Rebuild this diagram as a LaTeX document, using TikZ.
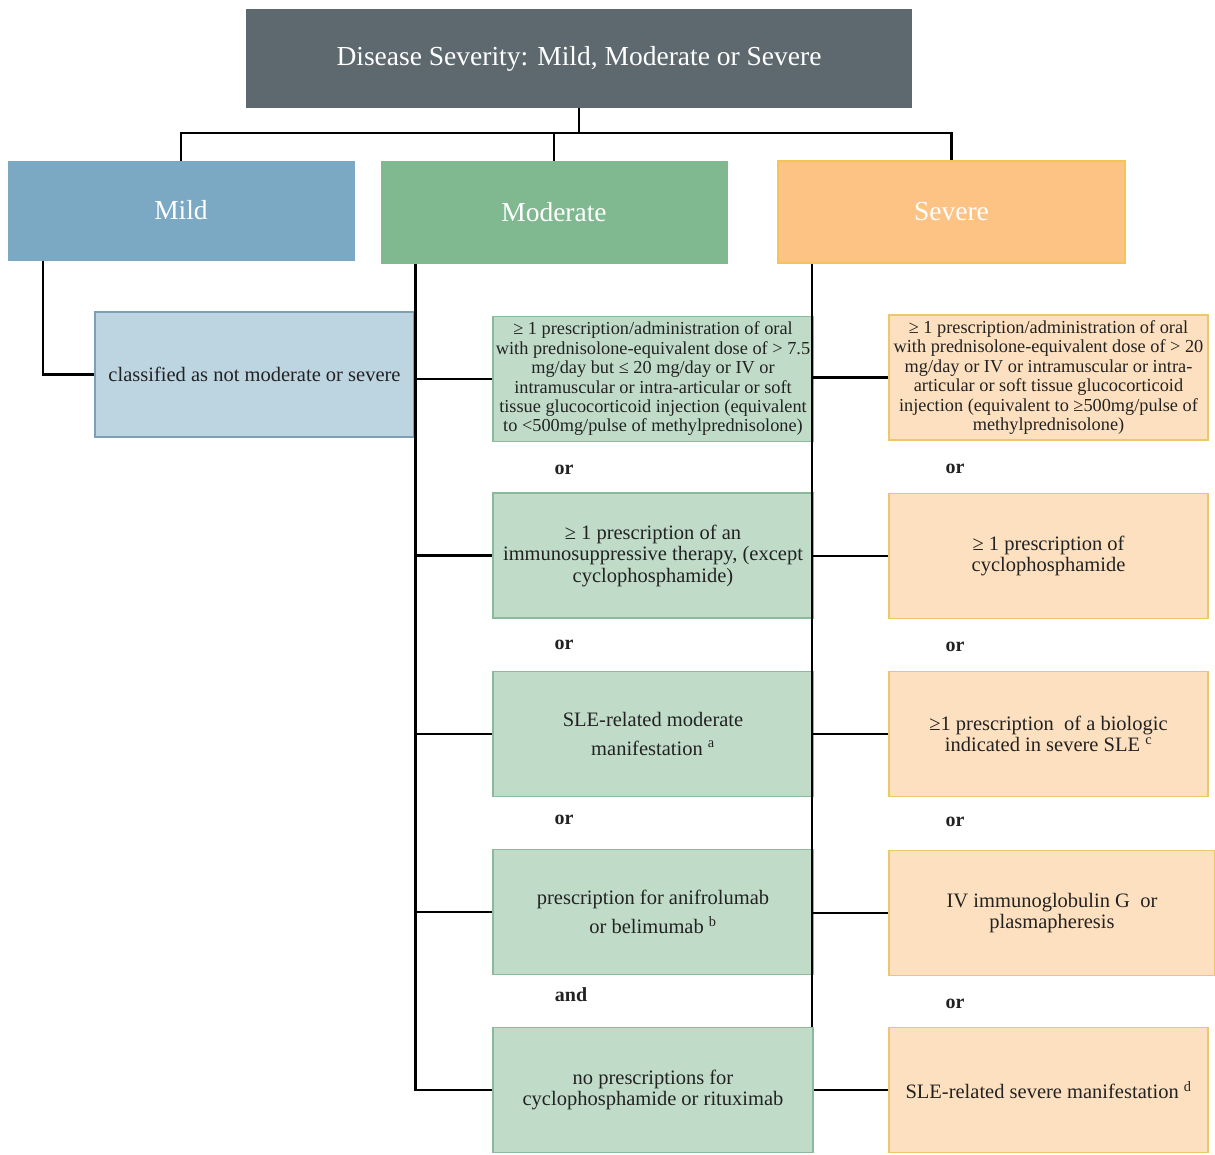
\documentclass[tikz,border=0pt]{standalone}
\usepackage{fontspec}
\setmainfont{Liberation Serif}
\definecolor{titlefill}{HTML}{5E696F}
\definecolor{mildfill}{HTML}{7BA8C3}
\definecolor{modfill}{HTML}{80B890}
\definecolor{sevfill}{HTML}{FCC384}
\definecolor{sevdraw}{HTML}{F2C45A}
\definecolor{mildsubfill}{HTML}{BDD4E1}
\definecolor{mildsubdraw}{HTML}{7F9FB8}
\definecolor{modsubfill}{HTML}{C0DCC8}
\definecolor{modsubdraw}{HTML}{8BB99B}
\definecolor{sevsubfill}{HTML}{FDE0BF}
\definecolor{sevsubdraw}{HTML}{EDC76B}
\definecolor{txt}{HTML}{222222}
\begin{document}
\begin{tikzpicture}[x=1pt,y=-1pt,
  head/.style={rectangle, inner sep=0pt, text=white, font=\fontsize{27.5}{32}\selectfont},
  sub/.style={rectangle, inner sep=0pt, line width=1.8pt, align=center, text=txt,
    font=\fontsize{20.5}{21.5}\selectfont},
  small/.style={font=\fontsize{18.3}{19.4}\selectfont},
  modsub/.style={sub, fill=modsubfill, draw=modsubdraw, minimum width=320, minimum height=125},
  sevsub/.style={sub, fill=sevsubfill, draw=sevsubdraw, minimum width=319, minimum height=125},
  conn/.style={line width=2.2pt, draw=black},
  joinword/.style={font=\bfseries\fontsize{20}{24}\selectfont, text=txt}]
\useasboundingbox (0,0) rectangle (1215,1154);
% header level
\node[head, fill=titlefill, minimum width=666, minimum height=99] (title) at (579,58.5)
  {Disease Severity: Mild, Moderate or Severe};
\node[head, fill=mildfill, draw=mildfill, line width=1pt, minimum width=346, minimum height=99] (mild) at (181,210.5) {Mild};
\node[head, fill=modfill, draw=modfill, line width=1pt, minimum width=346, minimum height=102] (moderate) at (554,212) {Moderate};
\node[head, fill=sevfill, draw=sevdraw, line width=1.5pt, minimum width=347, minimum height=102] (severe) at (951.5,212) {Severe};
% mild sub
\node[sub, fill=mildsubfill, draw=mildsubdraw, minimum width=319, minimum height=125] (ms) at (254.5,374.5)
  {classified as not moderate or severe};
% moderate subs
\node[modsub, small] (m1) at (653,379) {≥ 1 prescription/administration of oral\\with prednisolone-equivalent dose of > 7.5\\mg/day but ≤ 20 mg/day or IV or\\intramuscular or intra-articular or soft\\tissue glucocorticoid injection (equivalent\\to <500mg/pulse of methylprednisolone)};
\node[modsub] (m2) at (653,555.5) {≥ 1 prescription of an\\immunosuppressive therapy, (except\\cyclophosphamide)};
\node[modsub] (m3) at (653,734) {SLE-related moderate\\[7pt]manifestation \textsuperscript{a}};
\node[modsub] (m4) at (653,912) {prescription for anifrolumab\\[6pt]or belimumab \textsuperscript{b}};
\node[modsub] (m5) at (653,1090) {no prescriptions for\\cyclophosphamide or rituximab};
% severe subs
\node[sevsub, small] (s1) at (1048.5,377.5) {≥ 1 prescription/administration of oral\\with prednisolone-equivalent dose of > 20\\mg/day or IV or intramuscular or intra-\\articular or soft tissue glucocorticoid\\injection (equivalent to ≥500mg/pulse of\\methylprednisolone)};
\node[sevsub] (s2) at (1048.5,556) {≥ 1 prescription of\\cyclophosphamide};
\node[sevsub] (s3) at (1048.5,734) {≥1 prescription~ of a biologic\\indicated in severe SLE \textsuperscript{c}};
\node[sevsub, minimum width=326] (s4) at (1052,913) {IV immunoglobulin G~ or\\plasmapheresis};
\node[sevsub] (s5) at (1048.5,1090) {SLE-related severe manifestation \textsuperscript{d}};
% join words
\node[joinword] (o1) at (564,470) {or};
\node[joinword] (o2) at (564,645) {or};
\node[joinword] (o3) at (564,820) {or};
\node[joinword] (a1) at (571,995) {and};
\node[joinword] (o4) at (955,469) {or};
\node[joinword] (o5) at (955,647) {or};
\node[joinword] (o6) at (955,822) {or};
\node[joinword] (o7) at (955,1004) {or};
% connectors
\coordinate (bus) at (579,133);
\draw[conn] (title.south) -- (bus);
\draw[conn] (mild.north) |- (bus) -| (severe.north);
\draw[conn] (moderate.north) -- (moderate.north |- bus);
\coordinate (mildtop) at ([xshift=-138]mild.south);
\draw[conn] (mildtop) |- (ms.west);
\coordinate (modtop) at ([xshift=35]moderate.south west);
\draw[conn] (modtop) |- (m5.west);
\foreach \b in {m1,m2,m3,m4} \draw[conn] (modtop |- \b.west) -- (\b.west);
\coordinate (sevtop) at ([xshift=35]severe.south west);
\draw[conn] (sevtop) -- (sevtop |- m5.north);
\foreach \b in {s1,s2,s3,s4} \draw[conn] (sevtop |- \b.west) -- (\b.west);
\draw[conn] (m5.east) -- (s5.west);
\end{tikzpicture}
\end{document}
